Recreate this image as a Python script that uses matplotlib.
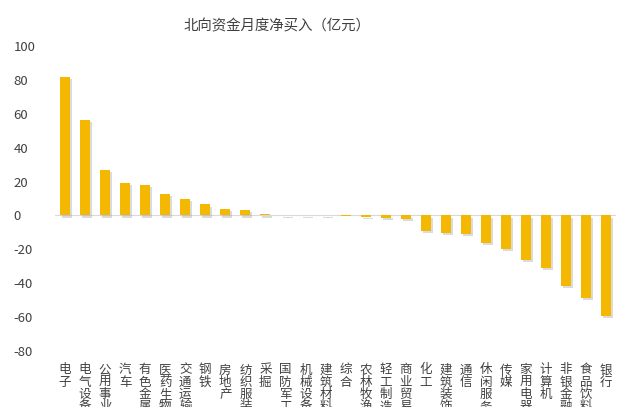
import matplotlib
matplotlib.use("Agg")
import matplotlib.pyplot as plt
import matplotlib.patheffects as pe
import numpy as np

plt.rcParams['font.family'] = ['Noto Sans CJK SC', 'DejaVu Sans']

industries = ['电子', '电气设备', '公用事业', '汽车', '有色金属', '医药生物', '交通运输',
              '钢铁', '房地产', '纺织服装', '采掘', '国防军工', '机械设备', '建筑材料',
              '综合', '农林牧渔', '轻工制造', '商业贸易', '化工', '建筑装饰', '通信',
              '休闲服务', '传媒', '家用电器', '计算机', '非银金融', '食品饮料', '银行']
net_buy = [81.5, 56.5, 27.0, 19.0, 18.0, 12.5, 9.5,
           6.5, 3.6, 3.0, 1.0, 0.3, 0.2, 0.1,
           -0.5, -1.0, -1.5, -2.0, -9.0, -10.5, -11.0,
           -16.0, -20.0, -26.5, -31.0, -41.5, -48.5, -59.5]
yticks = [-80, -60, -40, -20, 0, 20, 40, 60, 80, 100]
title = '北向资金月度净买入（亿元）'

fig = plt.figure(figsize=(6.23, 4.07), dpi=100)
ax = fig.add_axes([0.0883, 0.1376, 0.9005, 0.7494])

x = np.arange(len(industries))
bars = ax.bar(x, net_buy, width=0.5, color='#F5B800', zorder=3)
for b in bars:
    b.set_path_effects([pe.SimplePatchShadow(offset=(1.5, -1.5), shadow_rgbFace='#999999', alpha=0.35),
                        pe.Normal()])

ax.axhline(0, color='#d9d9d9', lw=0.8, zorder=2)
ax.set_xlim(-0.5, len(industries) - 0.5)
ax.set_ylim(-80, 100)
ax.set_yticks(yticks)
ax.set_yticklabels([str(v) for v in yticks], fontsize=9.5, color='#404040')
ax.tick_params(axis='y', length=0, pad=30)
ax.set_xticks(x)
ax.set_xticklabels(['\n'.join(s) for s in industries], fontsize=9, color='#404040',
                   linespacing=0.93, va='top')
ax.tick_params(axis='x', length=0, pad=9)
for lab in ax.get_yticklabels():
    lab.set_horizontalalignment('left')
for sp in ax.spines.values():
    sp.set_visible(False)

fig.text(0.445, 0.934, title, ha='center', va='center', fontsize=10.4, color='#404040')

fig.savefig('out.png', dpi=100)
